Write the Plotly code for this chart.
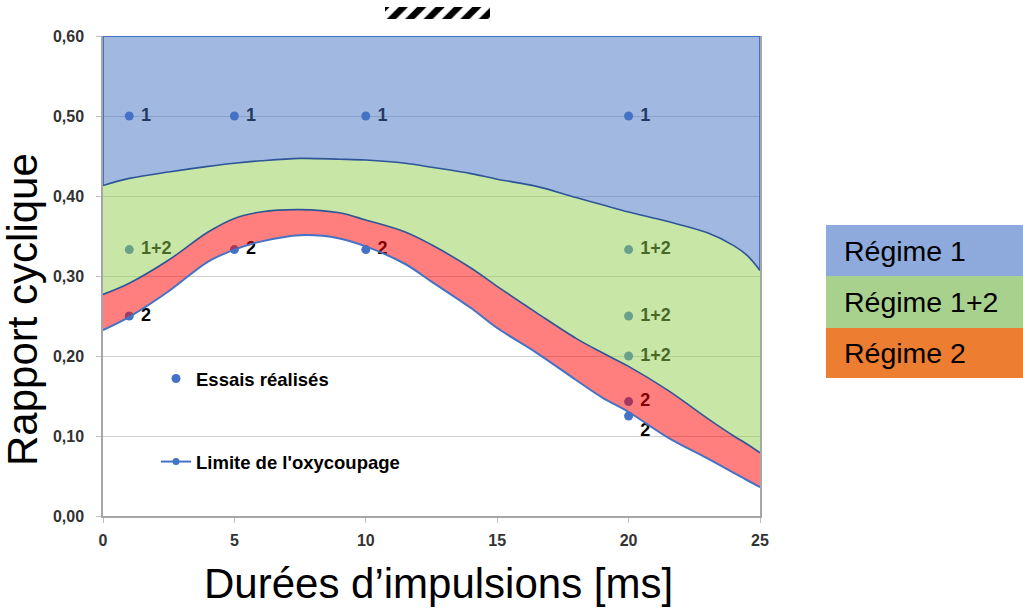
import plotly.graph_objects as go

# ---------------- data ----------------
X_MS = [0, 1, 2.5, 4, 5, 6, 7.5, 9, 10, 11.5, 12.5, 14, 15, 16.5, 18, 19, 20, 21.5, 23, 24, 24.5, 25]
LIMITE_R1 = [0.413, 0.422, 0.430, 0.437, 0.441, 0.444, 0.447, 0.446, 0.445, 0.441, 0.436,
             0.428, 0.421, 0.412, 0.398, 0.389, 0.380, 0.368, 0.354, 0.338, 0.326, 0.307]
LIMITE_R2_HAUT = [0.277, 0.291, 0.320, 0.355, 0.372, 0.380, 0.383, 0.379, 0.370, 0.355, 0.339,
                  0.310, 0.287, 0.254, 0.222, 0.204, 0.187, 0.157, 0.122, 0.100, 0.090, 0.079]
LIMITE_R2_BAS = [0.2325, 0.249, 0.281, 0.318, 0.333, 0.343, 0.351, 0.347, 0.337, 0.315, 0.293,
                 0.260, 0.235, 0.204, 0.170, 0.148, 0.130, 0.098, 0.072, 0.054, 0.045, 0.036]

ESSAI_X = [1, 5, 10, 20, 1, 20, 20, 20, 1, 5, 10, 20, 20]
ESSAI_Y = [0.5, 0.5, 0.5, 0.5, 0.333, 0.333, 0.25, 0.2, 0.25, 0.333, 0.333, 0.143, 0.125]
ESSAI_REGIME = ["1", "1", "1", "1", "1+2", "1+2", "1+2", "1+2", "2", "2", "2", "2", "2"]

X_TICKS = [0, 5, 10, 15, 20, 25]
Y_TICKS = [0.0, 0.1, 0.2, 0.3, 0.4, 0.5, 0.6]
REGIMES = ["Régime 1", "Régime 1+2", "Régime 2"]

# ---------------- layout helpers ----------------
W, H = 1023, 608
PL, PR = 103, 760          # plot area left/right (px)
PT, PB = 36, 516           # plot area top/bottom (px)
PAPER_H = PB               # margin top 0 -> paper spans px 0..516


def px(xp):
    return (xp - PL) / (PR - PL)


def py(yp):
    return (PAPER_H - yp) / PAPER_H


FONT = "Liberation Sans, Arial, sans-serif"
BLUE = "#4472C4"
DARK_BLUE = "#2F5597"
FILL_R1 = "rgba(68,114,196,0.5)"
FILL_R12 = "rgba(146,208,80,0.5)"
FILL_R2 = "rgba(255,0,0,0.5)"
REGIME_COLORS = ["#8EA9DB", "#A9D18E", "#ED7D31"]

fig = go.Figure()

# test points (drawn first, so the translucent regime areas tint them)
text_pos = ["bottom right" if (x, y) == (ESSAI_X[-1], ESSAI_Y[-1]) else "middle right"
            for x, y in zip(ESSAI_X, ESSAI_Y)]
fig.add_trace(go.Scatter(
    x=ESSAI_X, y=ESSAI_Y, mode="markers+text", text=[" " + t for t in ESSAI_REGIME],
    textposition=text_pos,
    marker=dict(color=BLUE, size=9),
    textfont=dict(family=FONT, size=18, color="black", weight="bold"),
    showlegend=False, hoverinfo="skip"))

# frame of regime 1 (top at 0.6, vertical ends)
Y_MAX = Y_TICKS[-1]
fig.add_trace(go.Scatter(
    x=[X_MS[0], X_MS[0], X_MS[-1], X_MS[-1]],
    y=[LIMITE_R1[0], Y_MAX, Y_MAX, LIMITE_R1[-1]],
    mode="lines", line=dict(color=BLUE, width=2), showlegend=False, hoverinfo="skip"))
# regime 1 / regime 1+2 limit
fig.add_trace(go.Scatter(
    x=X_MS, y=LIMITE_R1, mode="lines", line=dict(color=DARK_BLUE, width=1.6, shape="spline"),
    fill="tonexty", fillcolor=FILL_R1, showlegend=False, hoverinfo="skip"))
# regime 1+2 / regime 2 limit
fig.add_trace(go.Scatter(
    x=X_MS, y=LIMITE_R2_HAUT, mode="lines", line=dict(color=DARK_BLUE, width=1.6, shape="spline"),
    fill="tonexty", fillcolor=FILL_R12, showlegend=False, hoverinfo="skip"))
# lower limit (oxycutting)
fig.add_trace(go.Scatter(
    x=X_MS, y=LIMITE_R2_BAS, mode="lines", line=dict(color=BLUE, width=2, shape="spline"),
    fill="tonexty", fillcolor=FILL_R2, showlegend=False, hoverinfo="skip"))

# legend entries
fig.add_trace(go.Scatter(
    x=[None], y=[None], mode="markers", marker=dict(color=BLUE, size=9),
    name="Essais réalisés", legendgroup="a"))
fig.add_trace(go.Scatter(
    x=[None], y=[None], mode="lines+markers", line=dict(color=BLUE, width=2),
    marker=dict(color=BLUE, size=7), name="Limite de l'oxycoupage", legendgroup="b"))

# hatched block at the top
fig.add_trace(go.Bar(
    x=[0], y=[1], width=1, xaxis="x2", yaxis="y2",
    marker=dict(color="white", line=dict(width=0),
                pattern=dict(shape="/", fgcolor="black", bgcolor="white", fgopacity=1,
                             size=13, solidity=0.5)),
    showlegend=False, hoverinfo="skip"))

tickfont = dict(family=FONT, size=16, color="#333333", weight="bold")
fig.update_layout(
    width=W, height=H,
    margin=dict(l=PL, r=W - PR, t=0, b=H - PB, autoexpand=False),
    paper_bgcolor="white", plot_bgcolor="white",
    separators=", ",
    showlegend=True,
    legend=dict(x=px(156), y=py(360), xanchor="left", yanchor="top",
                bgcolor="rgba(0,0,0,0)",
                font=dict(family=FONT, size=18.5, color="black", weight="bold"),
                tracegroupgap=56, traceorder="grouped"),
    xaxis=dict(range=[X_TICKS[0], X_TICKS[-1]], tickvals=X_TICKS, ticks="outside", ticklen=5,
               tickcolor="#BFBFBF", showline=True, linecolor="#A6A6A6", linewidth=1.5,
               showgrid=False, zeroline=False, tickfont=tickfont, domain=[0, 1],
               ticklabelstandoff=4, automargin=False),
    yaxis=dict(range=[Y_TICKS[0], Y_TICKS[-1]], tickvals=Y_TICKS, tickformat=".2f",
               ticks="outside", ticklen=5, tickcolor="#BFBFBF",
               showline=True, mirror=True, linecolor="#A6A6A6", linewidth=1.5,
               showgrid=True, gridcolor="#CFCFCF", gridwidth=1.3, zeroline=False,
               tickfont=tickfont, domain=[0, py(PT)], ticklabelstandoff=9, automargin=False),
    xaxis2=dict(domain=[px(385), px(490)], anchor="y2", range=[-0.5, 0.5], visible=False,
                automargin=False),
    yaxis2=dict(domain=[py(19), py(7)], anchor="x2", range=[0, 1], visible=False,
                automargin=False),
)

# axis titles
fig.add_annotation(text="Rapport cyclique", xref="paper", yref="paper",
                   x=px(22), y=py(310), xanchor="center", yanchor="middle", textangle=-90,
                   showarrow=False, font=dict(family=FONT, size=42, color="black"))
fig.add_annotation(text="Durées d’impulsions [ms]", xref="paper", yref="paper",
                   x=px(438), y=py(583), xanchor="center", yanchor="middle",
                   showarrow=False, font=dict(family=FONT, size=42, color="black"))

# regime key on the right
box_edges = [225, 276, 328, 378]
for i, (name, col) in enumerate(zip(REGIMES, REGIME_COLORS)):
    y0, y1 = box_edges[i], box_edges[i + 1]
    fig.add_shape(type="rect", xref="paper", yref="paper",
                  x0=px(826), x1=px(1023), y0=py(y1), y1=py(y0),
                  fillcolor=col, line=dict(width=0), layer="above")
    fig.add_annotation(text=name, xref="paper", yref="paper",
                       x=px(842), y=py((y0 + y1) / 2), xanchor="left", yanchor="middle",
                       showarrow=False, font=dict(family=FONT, size=28.5, color="black"))

fig.write_html("out.html", config={"displayModeBar": False},
               post_script="document.body.style.margin='0';document.body.style.padding='0';")
